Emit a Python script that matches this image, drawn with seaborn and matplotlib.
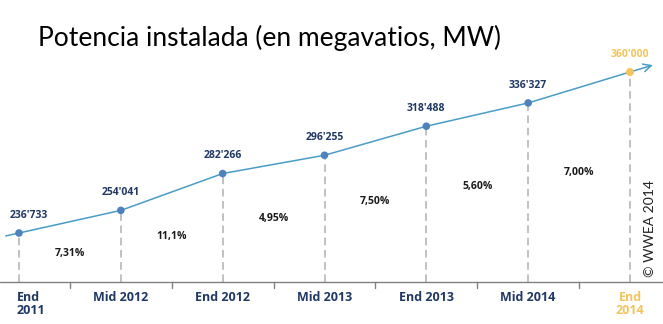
import matplotlib
matplotlib.use("Agg")
import matplotlib.pyplot as plt
import seaborn as sns
import pandas as pd
import numpy as np

periods = ["End\n2011", "Mid 2012", "End 2012", "Mid 2013", "End 2013", "Mid 2014", "End\n2014"]
capacity = [236733, 254041, 282266, 296255, 318488, 336327, 360000]
value_labels = ["236'733", "254'041", "282'266", "296'255", "318'488", "336'327", "360'000"]
growth = ["7,31%", "11,1%", "4,95%", "7,50%", "5,60%", "7,00%"]
growth_height = [221400, 233700, 248200, 261200, 272000, 283400]

sns.set_theme(style="white")
plt.rcParams['font.family'] = ['Lato', 'DejaVu Sans']
bold_font = ['Open Sans', 'DejaVu Sans']

navy = "#1f3864"
gold = "#f2c45a"
line_c = "#4a9cc8"
mark_c = "#4f81bd"
dash_c = "#b0b0b0"

fig = plt.figure(figsize=(6.63, 3.24), dpi=100)
ax = fig.add_axes([0, 0, 1, 1])
x = np.arange(len(capacity))
df = pd.DataFrame({"x": x, "mw": capacity})

ax.set_xlim(-0.1866, 6.324)
ax.set_ylim(167050, 415140)

# main line
sns.lineplot(data=df, x="x", y="mw", ax=ax, color=line_c, linewidth=1.1)
# extension at start
s0 = (capacity[1] - capacity[0])
ax.plot([x[0] - 0.13, x[0]], [capacity[0] - 0.13 * s0, capacity[0]], color=line_c, lw=1.1)
# extension with arrow at end
s1 = (capacity[-1] - capacity[-2])
ax.annotate("", xy=(x[-1] + 0.25, capacity[-1] + 0.25 * s1), xytext=(x[-1], capacity[-1]),
            arrowprops=dict(arrowstyle="->", color=line_c, lw=1.1, mutation_scale=14))

# dashed verticals
axis_y = 199200
for xi, v in zip(x, capacity):
    ax.plot([xi, xi], [axis_y, v], color=dash_c, lw=1.1, ls=(0, (5, 3)), zorder=1)

colors = [mark_c] * 6 + [gold]
sns.scatterplot(x=x, y=capacity, ax=ax, color=colors, s=30, edgecolor="none", zorder=5, legend=False)
ax.scatter(x[-1], capacity[-1], color=gold, s=30, zorder=6, edgecolor="none")

# value labels
for i, (xi, v, lab) in enumerate(zip(x, capacity, value_labels)):
    dx = 0.1 if i == 0 else 0
    ax.text(xi + dx, v + 13500, lab, ha="center", va="center", fontsize=7.5, fontweight="bold",
            family=bold_font, color=gold if i == 6 else navy)

# growth labels
for i, (g, h) in enumerate(zip(growth, growth_height)):
    ax.text(x[i] + 0.5, h, g, ha="center", va="center", fontsize=7.5, fontweight="bold",
            family=bold_font, color="#1a1a1a")

# axis line and ticks
ax.axhline(axis_y, color="#808080", lw=1.0, zorder=2)
for i in range(len(capacity)):
    ax.plot([x[i] + 0.5, x[i] + 0.5], [axis_y, axis_y - 4500], color="#808080", lw=1.0)

for i, p in enumerate(periods):
    col = gold if i == 6 else navy
    if i == 0:
        ax.text(x[i] - 0.02, axis_y - 6500, p, ha="left", va="top", fontsize=9, fontweight="bold",
                family=bold_font, color=col, linespacing=1.0)
    else:
        ax.text(x[i], axis_y - 6500, p, ha="center", va="top", fontsize=9, fontweight="bold",
                family=bold_font, color=col, linespacing=1.0)

ax.text(0.057, 0.883, "Potencia instalada (en megavatios, MW)", transform=ax.transAxes,
        fontsize=19, ha="left", va="center", color="black")
ax.text(0.98, 0.295, "© WWEA 2014", transform=ax.transAxes, rotation=90, fontsize=10,
        ha="center", va="center", color="#222222")

ax.set_axis_off()
fig.savefig("out.png", dpi=100)
